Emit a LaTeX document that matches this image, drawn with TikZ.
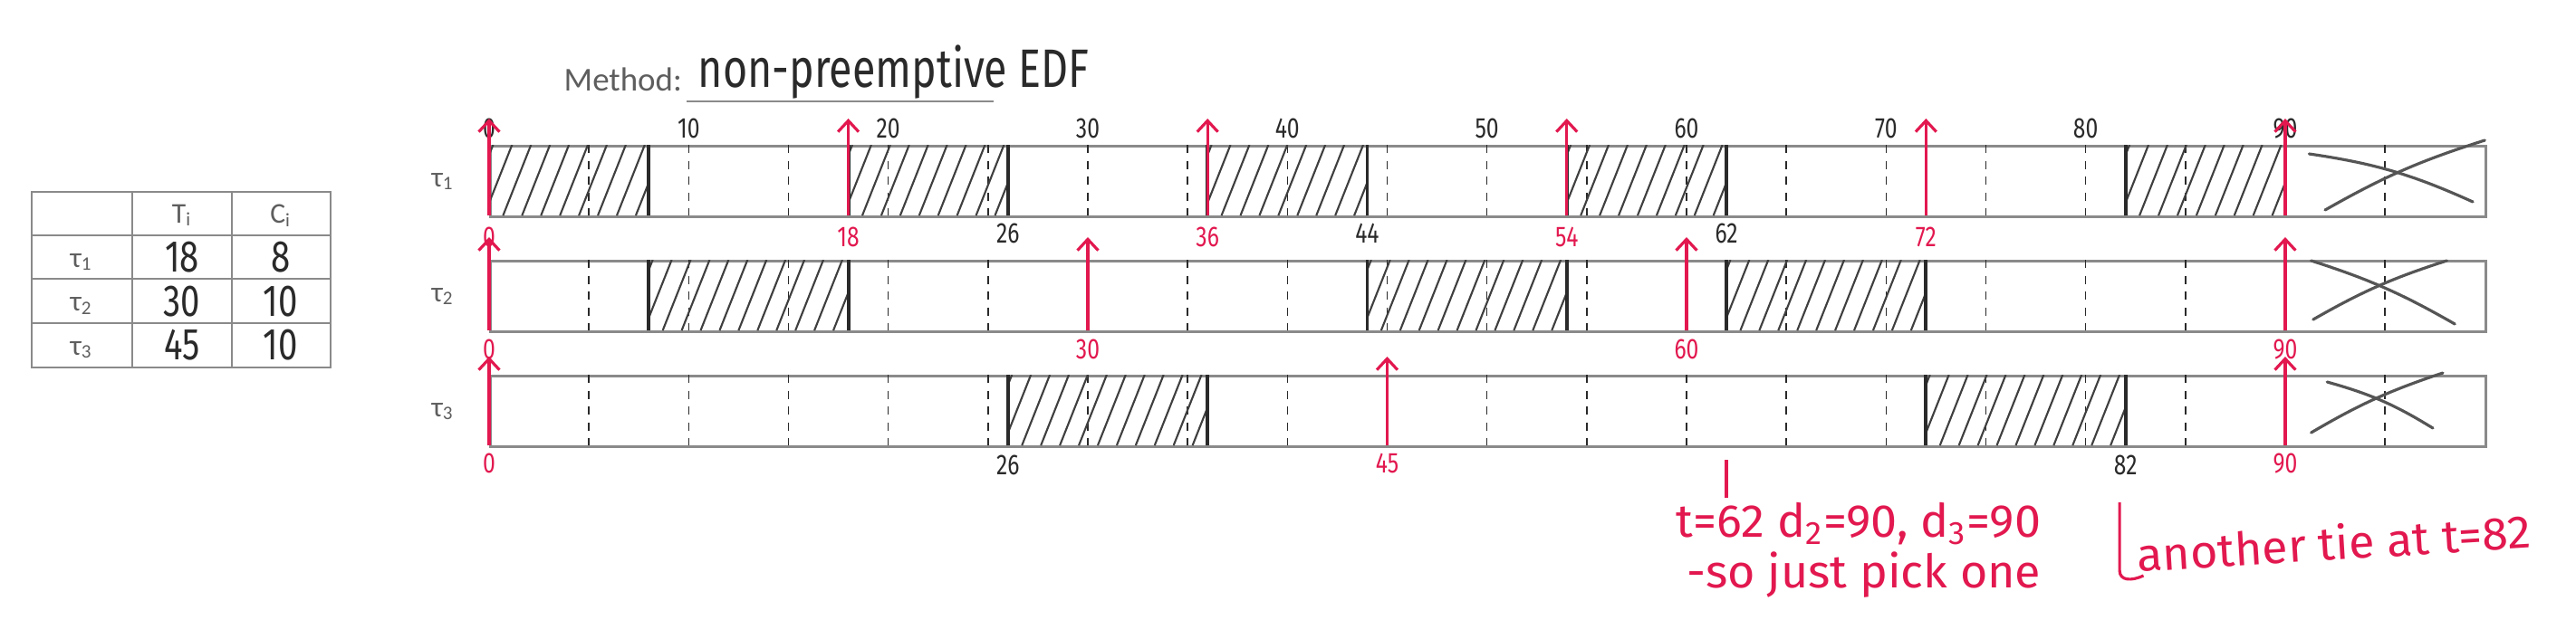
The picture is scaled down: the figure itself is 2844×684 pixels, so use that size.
\documentclass[tikz,border=0pt]{standalone}
\usepackage{fontspec}
\setmainfont{Carlito}
\newfontfamily\handfont{Fira Sans}[FakeStretch=0.78]
\newfontfamily\notefont{Fira Sans}[FakeStretch=1.02]
\usepackage{tikz}
\usetikzlibrary{arrows.meta,positioning}
\definecolor{pen-red}{HTML}{E2184F}
\definecolor{pen-ink}{HTML}{2A2A2A}
\definecolor{print-gray}{HTML}{5E5E5E}
\definecolor{rule-gray}{HTML}{8A8A8A}

\begin{document}
\begin{tikzpicture}[
    x=0.01cm, y=-0.01cm,
    printed/.style={text=print-gray, font=\fontsize{9}{10}\selectfont, inner sep=0pt},
    hand/.style={text=pen-ink, font=\handfont\fontsize{9}{10}\selectfont, inner sep=0pt},
    handred/.style={hand, text=pen-red},
    note/.style={handred, font=\notefont\fontsize{14.5}{16}\selectfont},
    lane/.style={draw=rule-gray, line width=0.8pt, minimum width=22.02cm,
                 minimum height=0.78cm, inner sep=0pt, anchor=north west},
    grid/.style={draw=rule-gray, line width=0.8pt},
    tickline/.style={draw=pen-ink, line width=0.4pt, dash pattern=on 2.6pt off 2.4pt},
    hatchline/.style={draw=pen-ink!90, line width=0.6pt},
    bound/.style={draw=pen-ink, line width=1.1pt},
    release/.style={-{Straight Barb[length=3.5pt,width=6.5pt]}, draw=pen-red, line width=0.9pt},
    cross/.style={draw=pen-ink!80, line width=0.9pt, line cap=round},
  ]
    \useasboundingbox[fill=white] (0,0) rectangle (2844,684);

    % Parameter table
    \draw[grid] (35,212) rectangle (365,406);
    \draw[grid] (35,260) -- (365,260) (35,308) -- (365,308) (35,357) -- (365,357);
    \draw[grid] (146,212) -- (146,406) (256,212) -- (256,406);
    \node[printed] (hdrT) at (201,238) {T\textsubscript{i}};
    \node[printed] (hdrC) at (310,238) {C\textsubscript{i}};
    \foreach \r/\T/\C in {1/18/8, 2/30/10, 3/45/10}{
      \node[printed] (tbltau\r) at (90,241+48.5*\r) {τ\textsubscript{\r}};
      \node[hand, font=\handfont\fontsize{14}{14}\selectfont] (tblT\r) at (201,236+48.5*\r) {\T};
      \node[hand, font=\handfont\fontsize{14}{14}\selectfont] (tblC\r) at (310,236+48.5*\r) {\C};
    }

    % Method line
    \node[printed, font=\fontsize{10.5}{12}\selectfont, anchor=base west] (method) at (622,100) {Method:};
    \draw[grid, line width=0.6pt] (758,112) -- (1097,112);
    \node[hand, font=\handfont\fontsize{17}{18}\selectfont, anchor=base west] (methodname)
          at (770,96) {non-preemptive EDF};

    \begin{scope}[shift={(540,0)}, x=0.2202cm]
      % Lanes and 5-unit grid
      \foreach \r in {1,2,3}{
        \pgfmathsetmacro{\laneTop}{33+127*\r}
        \node[lane] (lane\r) at (0,\laneTop) {};
        \node[printed, left=0.38cm of lane\r] (tau\r) {τ\textsubscript{\r}};
        \foreach \t in {5,10,...,95}
          \draw[tickline] (\t,\laneTop) -- (\t,\laneTop+78);
      }

      % Time axis
      \foreach \t in {0,10,...,90}
        \node[hand] (ax\t) at (\t,142) {\t};

      % Executed jobs
      \foreach \r/\a/\b in {1/0/8, 1/18/26, 1/36/44, 1/54/62, 1/82/90,
                            2/8/18, 2/44/54, 2/62/72, 3/26/36, 3/72/82}{
        \pgfmathsetmacro{\laneTop}{33+127*\r}
        \begin{scope}
          \clip (\a,\laneTop) rectangle (\b,\laneTop+78);
          \foreach \k in {0,...,12}
            \draw[hatchline] (\a-1.2+0.95*\k,\laneTop+78) -- ++(1.4,-78);
        \end{scope}
        \draw[bound] (\a,\laneTop) -- (\a,\laneTop+78);
        \draw[bound] (\b,\laneTop) -- (\b,\laneTop+78);
      }

      % Releases
      \foreach \t in {0,18,36,54,72,90}
        \draw[release] (\t,238) -- (\t,131);
      \foreach \t in {0,18,36,54,72}
        \node[handred] (rel1-\t) at (\t,262) {\t};
      \foreach \t in {0,30,60,90}{
        \draw[release] (\t,365) -- (\t,262);
        \node[handred] (rel2-\t) at (\t,386) {\t};
      }
      \foreach \t in {0,45,90}{
        \draw[release] (\t,492) -- (\t,394);
        \node[handred] (rel3-\t) at (\t,512) {\t};
      }

      % Completion times
      \foreach \t in {26,44,62}
        \node[hand] (end1-\t) at (\t,258) {\t};
      \foreach \t in {26,82}
        \node[hand] (end3-\t) at (\t,514) {\t};

      % Beyond the hyperperiod
      \draw[cross] (91.2,170) to[bend left=8] (99.4,223);
      \draw[cross] (92.0,232) to[bend left=6] (100,155);
      \draw[cross] (91.3,288) to[bend left=6] (98.5,358);
      \draw[cross] (91.4,353) to[bend left=6] (98.1,288);
      \draw[cross] (92.1,422) to[bend left=8] (97.4,473);
      \draw[cross] (91.3,478) to[bend left=6] (97.9,412);

      % Notes
      \draw[pen-red, line width=0.9pt] (62,508) -- (62,550);
      \draw[pen-red, line width=0.9pt] (81.7,555) -- (81.7,630)
            .. controls (81.7,642) and (82.3,642) .. (82.9,636);
    \end{scope}

    \node[note, align=right, anchor=east] (note62) at (2254,608)
          {t=62 d\textsubscript{2}=90, d\textsubscript{3}=90\\-so just pick one};
    \node[note, anchor=base west, rotate=3.5] (tie82) at (2360,632) {another tie at t=82};
  \end{tikzpicture}
\end{document}
